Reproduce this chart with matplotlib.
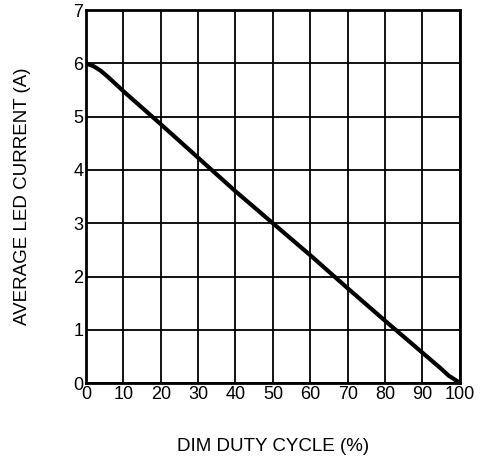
import matplotlib.pyplot as plt

plt.rcParams['font.family'] = ['Liberation Sans', 'DejaVu Sans']

duty = [0, 2, 4, 6, 8, 10, 20, 30, 40, 50, 60, 70, 80, 90, 95, 97, 99, 100]
current = [6.0, 5.95, 5.86, 5.74, 5.61, 5.48, 4.86, 4.23, 3.6, 3.0, 2.4, 1.78, 1.17, 0.57, 0.27, 0.14, 0.05, 0.0]
x_ticks = list(range(0, 101, 10))
y_ticks = list(range(0, 8))

fig = plt.figure(figsize=(4.8, 4.61), dpi=100)
ax = fig.add_axes([0.179, 0.169, 0.779, 0.809])

ax.plot(duty, current, color='black', linewidth=3.0, solid_capstyle='round')

ax.set_xlim(0, 100)
ax.set_ylim(0, 7)
ax.set_xticks(x_ticks)
ax.set_yticks(y_ticks)
ax.tick_params(length=0, labelsize=13, pad=2)
ax.grid(True, color='black', linewidth=1.3)
for s in ax.spines.values():
    s.set_linewidth(2.0)

ax.set_xlabel('DIM DUTY CYCLE (%)', fontsize=13.5, labelpad=25)
ax.set_ylabel('AVERAGE LED CURRENT (A)', fontsize=13.5, labelpad=30)

fig.savefig('out.png', dpi=100)
